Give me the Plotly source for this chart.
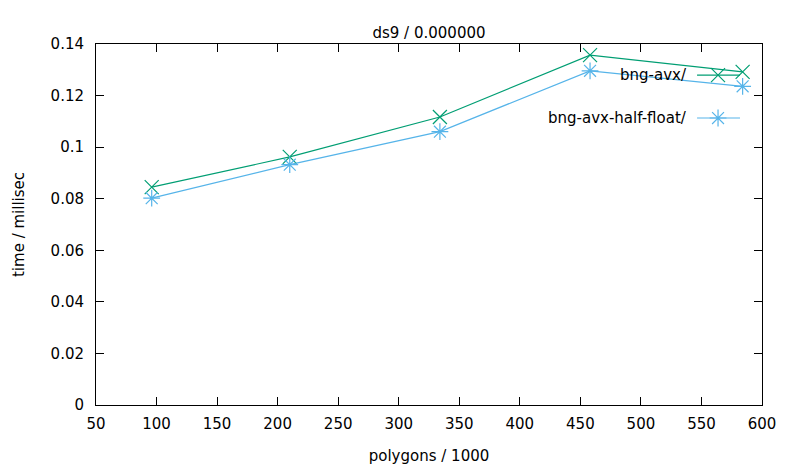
import plotly.graph_objects as go

# Data
polygons_k = [96, 210, 334, 458, 584]
bng_avx = [0.0845, 0.0962, 0.1117, 0.1357, 0.1292]
bng_avx_half_float = [0.0802, 0.0932, 0.1060, 0.1296, 0.1236]

series_names = ["bng-avx/", "bng-avx-half-float/"]
series_colors = ["#009e73", "#56b4e9"]
series_symbols = ["x-thin-open", "asterisk-open"]

x_ticks = [50, 100, 150, 200, 250, 300, 350, 400, 450, 500, 550, 600]
y_ticks = [0, 0.02, 0.04, 0.06, 0.08, 0.1, 0.12, 0.14]
y_tick_text = ["0", "0.02", "0.04", "0.06", "0.08", "0.1", "0.12", "0.14"]

FONT = "DejaVu Sans"
FS = 15
fig = go.Figure()

for name, vals, col, sym in zip(series_names, [bng_avx, bng_avx_half_float],
                                series_colors, series_symbols):
    fig.add_trace(go.Scatter(
        x=polygons_k, y=vals, mode="lines+markers", name=name,
        line=dict(color=col, width=1.2),
        marker=dict(symbol=sym, size=14, color=col, line=dict(color=col, width=1.2)),
        showlegend=False,
    ))

# gnuplot-style legend: text on the left, sample on the right (overlay axes 0..1)
legend_y = [0.914, 0.795]
for name, col, sym, ly in zip(series_names, series_colors, series_symbols, legend_y):
    fig.add_trace(go.Scatter(
        x=[0.9025, 0.967], y=[ly, ly], mode="lines", xaxis="x2", yaxis="y2",
        line=dict(color=col, width=1.2), showlegend=False, hoverinfo="skip"))
    fig.add_trace(go.Scatter(
        x=[0.934], y=[ly], mode="markers", xaxis="x2", yaxis="y2",
        marker=dict(symbol=sym, size=14, color=col, line=dict(color=col, width=1.2)),
        showlegend=False, hoverinfo="skip"))
    fig.add_annotation(x=0.89, y=ly, xref="x2", yref="y2", text=name,
                       showarrow=False, xanchor="right", yanchor="middle",
                       font=dict(family=FONT, size=FS, color="black"))

axis_common = dict(showline=True, linecolor="black", linewidth=1, mirror="ticks",
                   ticks="inside", ticklen=8, tickcolor="black", tickwidth=1,
                   showgrid=False, zeroline=False, automargin=False,
                   tickfont=dict(family=FONT, size=FS, color="black"))

fig.update_layout(
    width=789, height=473,
    margin=dict(l=96, r=27, t=44, b=68),
    paper_bgcolor="white", plot_bgcolor="white",
    title=dict(text="ds9 / 0.000000", x=(96 + 762) / 2 / 789, xanchor="center",
               y=1 - 33 / 473, yanchor="middle",
               font=dict(family=FONT, size=FS, color="black")),
    xaxis=dict(range=[50, 600], tickvals=x_ticks, ticktext=[str(t) for t in x_ticks],
               ticklabelstandoff=5,
               title=dict(text="polygons / 1000", standoff=18,
                          font=dict(family=FONT, size=FS, color="black")),
               **axis_common),
    yaxis=dict(range=[0, 0.14], tickvals=y_ticks, ticktext=y_tick_text,
               ticklabelstandoff=8,
               title=dict(text="time / millisec", standoff=22,
                          font=dict(family=FONT, size=FS, color="black")),
               **axis_common),
    xaxis2=dict(range=[0, 1], overlaying="x", visible=False, fixedrange=True),
    yaxis2=dict(range=[0, 1], overlaying="y", visible=False, fixedrange=True),
    showlegend=False,
)

fig.write_html("out.html", config={"displayModeBar": False},
               post_script="document.body.style.margin='0';")
